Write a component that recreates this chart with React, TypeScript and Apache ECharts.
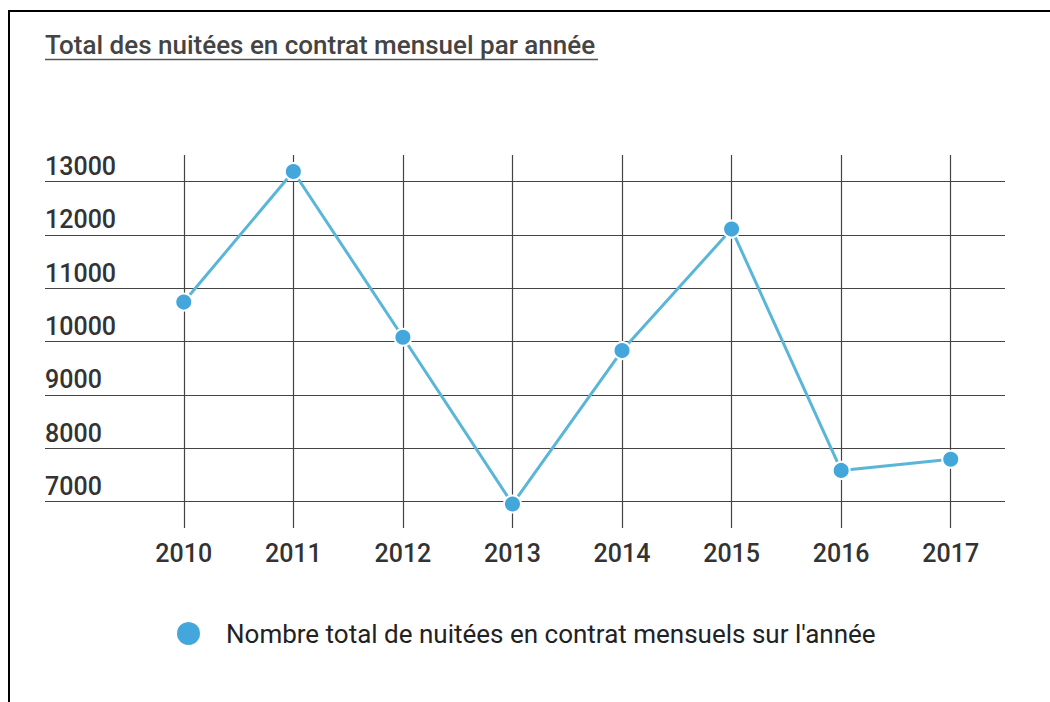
import React, { useEffect, useRef } from "react";
import * as echarts from "echarts";

const years: string[] = ["2010", "2011", "2012", "2013", "2014", "2015", "2016", "2017"];
const nuitees: number[] = [10740, 13190, 10080, 6950, 9830, 12110, 7580, 7790];
const yTicks: number[] = [7000, 8000, 9000, 10000, 11000, 12000, 13000];
const titleText = "Total des nuitées en contrat mensuel par année";
const seriesName = "Nombre total de nuitées en contrat mensuels sur l'année";

const FONT = "Roboto, 'Noto Sans', sans-serif";

export default function App() {
  const ref = useRef<HTMLDivElement>(null);
  useEffect(() => {
    if (!ref.current) return;
    const chart = echarts.init(ref.current, null, { renderer: "svg" });
    const gridTop = 155;
    const gridBottom = 174;
    chart.setOption({
      animation: false,
      backgroundColor: "#ffffff",
      textStyle: { fontFamily: FONT },
      grid: [
        { left: 45, right: 45, top: gridTop, bottom: gridBottom },
        { left: 129, right: 44.5, top: gridTop, bottom: gridBottom },
      ],
      xAxis: [
        { type: "value", gridIndex: 0, show: false, min: 0, max: 1 },
        {
          type: "category",
          gridIndex: 1,
          data: years,
          boundaryGap: true,
          axisLine: { show: false },
          axisTick: { show: false },
          splitLine: { show: false },
          axisLabel: { margin: 13, fontSize: 25, fontWeight: 500, color: "#333", fontFamily: FONT },
        },
      ],
      yAxis: [
        {
          type: "value",
          gridIndex: 0,
          min: 6500,
          max: 13500,
          interval: 500,
          axisLine: { show: false },
          axisTick: { show: false },
          splitLine: {
            show: true,
            lineStyle: { color: ["rgba(0,0,0,0)", "#444444"], width: 1.2 },
          },
          axisLabel: {
            inside: true,
            margin: 0,
            align: "left",
            verticalAlign: "bottom",
            lineHeight: 28,
            padding: [0, 0, 1, 0],
            fontSize: 25,
            fontWeight: 500,
            color: "#333",
            fontFamily: FONT,
            formatter: (v: number) => (yTicks.indexOf(v) >= 0 ? String(v) : ""),
          },
        },
        {
          type: "value",
          gridIndex: 1,
          min: 6500,
          max: 13500,
          show: false,
          splitLine: { show: false },
        },
      ],
      legend: {
        left: 170,
        top: 615,
        icon: "circle",
        itemWidth: 25,
        itemHeight: 25,
        data: [{ name: seriesName }],
        textStyle: { fontSize: 26, color: "#222", fontFamily: FONT, padding: [0, 0, 0, 20] },
      },
      series: [
        {
          name: seriesName,
          type: "line",
          xAxisIndex: 1,
          yAxisIndex: 1,
          data: nuitees,
          symbol: "circle",
          symbolSize: 17,
          z: 5,
          lineStyle: { color: "#5ab6d8", width: 3 },
          itemStyle: { color: "#44a7dc", borderColor: "#ffffff", borderWidth: 2 },
          markLine: {
            silent: true,
            symbol: ["none", "none"],
            label: { show: false },
            lineStyle: { color: "#444444", width: 1.2, type: "solid" },
            z: 1,
            data: years.map((y) => ({ xAxis: y })),
          },
        },
      ],
      graphic: [
        {
          type: "text",
          left: 45,
          top: 32,
          style: { text: titleText, fontSize: 26, fontWeight: 500, fill: "#444", fontFamily: FONT },
        },
        {
          type: "line",
          shape: { x1: 45, y1: 59.5, x2: 598, y2: 59.5 },
          style: { stroke: "#555", lineWidth: 1.5 },
        },
        {
          type: "line",
          shape: { x1: 8, y1: 11, x2: 1050, y2: 11 },
          style: { stroke: "#000", lineWidth: 2 },
        },
        {
          type: "line",
          shape: { x1: 9, y1: 10, x2: 9, y2: 702 },
          style: { stroke: "#000", lineWidth: 2 },
        },
      ],
    });
    return () => chart.dispose();
  }, []);
  return (
    <div
      ref={ref}
      style={{ position: "fixed", left: 0, top: 0, width: 1050, height: 702 }}
    />
  );
}
